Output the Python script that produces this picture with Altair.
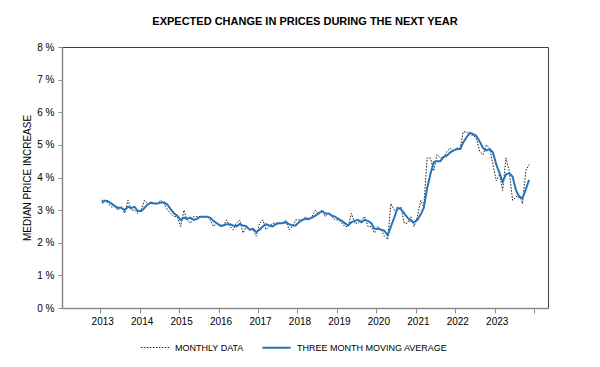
import altair as alt
import pandas as pd

SERIES = ["MONTHLY DATA", "THREE MONTH MOVING AVERAGE"]
years = list(range(2013, 2024))

monthly_2013 = [3.3, 3.3, 3.2, 3.1, 3.1, 3.0, 3.1, 2.9, 3.3, 3.0, 3.0, 2.9]
monthly_2014 = [3.0, 3.3, 3.2, 3.2, 3.2, 3.2, 3.3, 3.2, 3.0, 2.9, 2.8, 2.8]
monthly_2015 = [2.5, 3.0, 2.7, 2.6, 2.8, 2.8, 2.8, 2.8, 2.8, 2.7, 2.5, 2.6]
monthly_2016 = [2.5, 2.5, 2.7, 2.5, 2.4, 2.6, 2.7, 2.3, 2.5, 2.4, 2.4, 2.2]
monthly_2017 = [2.6, 2.7, 2.4, 2.5, 2.6, 2.6, 2.6, 2.6, 2.7, 2.4, 2.5, 2.7]
monthly_2018 = [2.7, 2.7, 2.8, 2.7, 2.8, 3.0, 2.9, 3.0, 2.8, 2.9, 2.8, 2.7]
monthly_2019 = [2.7, 2.6, 2.5, 2.5, 2.9, 2.6, 2.6, 2.7, 2.8, 2.5, 2.5, 2.3]
monthly_2020 = [2.5, 2.4, 2.2, 2.1, 3.2, 3.0, 3.0, 3.1, 2.6, 2.6, 2.8, 2.5]
monthly_2021 = [2.8, 3.3, 3.1, 4.6, 4.6, 4.2, 4.7, 4.6, 4.6, 4.8, 4.9, 4.8]
monthly_2022 = [4.9, 4.9, 5.4, 5.4, 5.3, 5.3, 5.2, 4.8, 4.7, 5.0, 4.9, 4.4]
monthly_2023 = [3.9, 4.1, 3.6, 4.6, 4.2, 3.3, 3.4, 3.5, 3.2, 4.2, 4.4]

ma_2013 = [3.22, 3.29, 3.27, 3.20, 3.13, 3.07, 3.07, 3.00, 3.10, 3.07, 3.10, 2.97]
ma_2014 = [2.97, 3.07, 3.17, 3.23, 3.20, 3.20, 3.23, 3.23, 3.17, 3.03, 2.90, 2.83]
ma_2015 = [2.70, 2.77, 2.73, 2.77, 2.70, 2.73, 2.80, 2.80, 2.80, 2.77, 2.67, 2.60]
ma_2016 = [2.53, 2.53, 2.57, 2.57, 2.53, 2.50, 2.57, 2.53, 2.50, 2.40, 2.43, 2.33]
ma_2017 = [2.40, 2.50, 2.57, 2.53, 2.50, 2.57, 2.60, 2.60, 2.63, 2.57, 2.53, 2.53]
ma_2018 = [2.63, 2.70, 2.73, 2.73, 2.77, 2.83, 2.90, 2.97, 2.90, 2.90, 2.83, 2.80]
ma_2019 = [2.73, 2.67, 2.60, 2.53, 2.63, 2.67, 2.70, 2.63, 2.70, 2.67, 2.60, 2.43]
ma_2020 = [2.43, 2.40, 2.37, 2.23, 2.50, 2.77, 3.07, 3.03, 2.90, 2.77, 2.67, 2.63]
ma_2021 = [2.70, 2.87, 3.07, 3.67, 4.10, 4.47, 4.50, 4.50, 4.63, 4.67, 4.77, 4.83]
ma_2022 = [4.87, 4.87, 5.07, 5.23, 5.37, 5.33, 5.27, 5.10, 4.90, 4.83, 4.87, 4.77]
ma_2023 = [4.40, 4.13, 3.87, 4.10, 4.13, 4.03, 3.63, 3.40, 3.37, 3.63, 3.93]

monthly_lists = [monthly_2013, monthly_2014, monthly_2015, monthly_2016, monthly_2017,
                 monthly_2018, monthly_2019, monthly_2020, monthly_2021, monthly_2022,
                 monthly_2023]
ma_lists = [ma_2013, ma_2014, ma_2015, ma_2016, ma_2017, ma_2018, ma_2019, ma_2020,
            ma_2021, ma_2022, ma_2023]

rows = []
for name, lists in zip(SERIES, [monthly_lists, ma_lists]):
    for yr, vals in zip(years, lists):
        for i, v in enumerate(vals):
            rows.append({"date": f"{yr}-{i + 1:02d}-15", "series": name, "value": v})
df = pd.DataFrame(rows)

FONT = "Liberation Sans"
legend = alt.Legend(
    title=None, orient="none", legendX=78, legendY=285, direction="horizontal",
    symbolType="stroke", symbolSize=800, labelFont=FONT, labelFontSize=9,
    labelColor="black", columnPadding=14, labelOffset=5,
)

tick_years = [alt.DateTime(year=y, month=1, date=1) for y in range(2013, 2025)]

chart = alt.Chart(df).mark_line().encode(
    x=alt.X("date:T", title=None,
            scale=alt.Scale(domain=[alt.DateTime(year=2012, month=1, date=13),
                                    alt.DateTime(year=2024, month=5, date=8)]),
            axis=alt.Axis(values=tick_years, tickSize=5, labelPadding=3, labelOffset=2,
                          labelExpr="year(datum.value) >= 2024 ? '' : timeFormat(datum.value, '%Y')")),
    y=alt.Y("value:Q", title="MEDIAN PRICE INCREASE",
            scale=alt.Scale(domain=[0, 8], nice=False),
            axis=alt.Axis(values=list(range(9)), tickSize=4, labelPadding=4,
                          titlePadding=4, labelExpr="datum.value + ' %'")),
    color=alt.Color("series:N", scale=alt.Scale(domain=SERIES, range=["#1a1a1a", "#2674bc"]),
                    legend=legend),
    strokeDash=alt.StrokeDash("series:N",
                              scale=alt.Scale(domain=SERIES, range=[[1.5, 1.5], [1, 0]]),
                              legend=legend),
    strokeWidth=alt.StrokeWidth("series:N", scale=alt.Scale(domain=SERIES, range=[1, 2]),
                                legend=legend),
).properties(
    width=486, height=261, autosize="none",
    padding={"left": 54, "top": 39, "right": 40, "bottom": 51},
    title=alt.Title("EXPECTED CHANGE IN PRICES DURING THE NEXT YEAR", font=FONT,
                    fontSize=11, fontWeight="bold", color="black", offset=15),
).configure_view(
    stroke="#404040", strokeWidth=1,
).configure_axis(
    grid=False, domainColor="#8a8a8a", domainWidth=1.5, tickColor="#8a8a8a",
    labelFont=FONT, labelFontSize=10, labelColor="black",
    titleFont=FONT, titleFontSize=10, titleFontWeight="normal", titleColor="black",
)

chart.save("out.html", embed_options={"renderer": "svg", "actions": False})
